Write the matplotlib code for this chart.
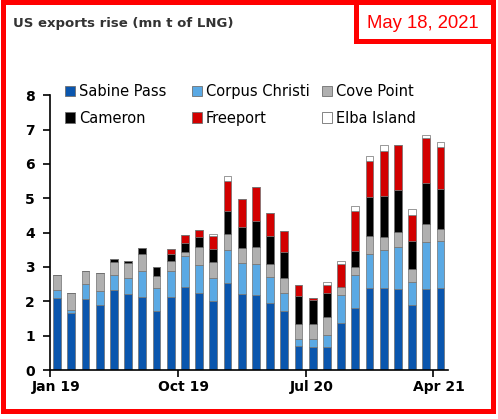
import matplotlib.pyplot as plt
import numpy as np
from matplotlib.patches import Patch, Rectangle


MONTHS = [
    "Jan 19", "Feb 19", "Mar 19", "Apr 19", "May 19", "Jun 19", "Jul 19",
    "Aug 19", "Sep 19", "Oct 19", "Nov 19", "Dec 19", "Jan 20", "Feb 20",
    "Mar 20", "Apr 20", "May 20", "Jun 20", "Jul 20", "Aug 20", "Sep 20",
    "Oct 20", "Nov 20", "Dec 20", "Jan 21", "Feb 21", "Mar 21", "Apr 21",
]

# mn t of LNG
SABINE_PASS = [2.11, 1.67, 2.06, 1.88, 2.34, 2.20, 2.14, 1.73, 2.14, 2.42, 2.24, 2.00, 2.54, 2.22,
               2.18, 1.96, 1.73, 0.70, 0.67, 0.67, 1.37, 1.82, 2.39, 2.39, 2.35, 1.90, 2.35, 2.38]
CORPUS_CHRISTI = [0.21, 0.07, 0.44, 0.42, 0.43, 0.49, 0.73, 0.66, 0.73, 0.89, 0.81, 0.68, 0.96, 0.89,
                  0.90, 0.75, 0.52, 0.20, 0.24, 0.36, 0.81, 0.95, 0.98, 1.11, 1.23, 0.67, 1.37, 1.39]
COVE_POINT = [0.46, 0.50, 0.37, 0.52, 0.38, 0.42, 0.52, 0.36, 0.29, 0.14, 0.52, 0.46, 0.46, 0.44,
              0.50, 0.37, 0.44, 0.43, 0.44, 0.51, 0.23, 0.23, 0.52, 0.37, 0.43, 0.36, 0.52, 0.35]
CAMERON = [0.00, 0.00, 0.00, 0.00, 0.09, 0.07, 0.15, 0.25, 0.23, 0.25, 0.31, 0.38, 0.68, 0.62,
           0.76, 0.82, 0.76, 0.83, 0.69, 0.70, 0.00, 0.47, 1.16, 1.20, 1.24, 0.84, 1.20, 1.15]
FREEPORT = [0.00, 0.00, 0.00, 0.00, 0.00, 0.00, 0.00, 0.00, 0.14, 0.23, 0.20, 0.39, 0.87, 0.82,
            1.00, 0.67, 0.61, 0.31, 0.07, 0.23, 0.68, 1.15, 1.05, 1.30, 1.31, 0.75, 1.32, 1.22]
ELBA_ISLAND = [0.00, 0.00, 0.00, 0.00, 0.00, 0.00, 0.00, 0.00, 0.00, 0.00, 0.00, 0.06, 0.14, 0.00,
               0.00, 0.00, 0.00, 0.00, 0.00, 0.08, 0.09, 0.16, 0.14, 0.19, 0.00, 0.16, 0.08, 0.16]

TERMINALS = ["Sabine Pass", "Corpus Christi", "Cove Point", "Cameron", "Freeport", "Elba Island"]
COLORS = ["#0A56AE", "#5AA9E4", "#B0B0B0", "#000000", "#D20000", "#FFFFFF"]

TICK_LABELS = ["Jan 19", "Oct 19", "Jul 20", "Apr 21"]

W, H = 498, 419
RED = "#FF0000"


def fx(px):
    return px / W


def fy(py):
    return 1 - py / H


def main():
    fig = plt.figure(figsize=(W / 100, H / 100), dpi=100)
    ax = fig.add_axes([fx(50), fy(370), fx(447.6) - fx(50), fy(95.3) - fy(370)])

    series = [SABINE_PASS, CORPUS_CHRISTI, COVE_POINT, CAMERON, FREEPORT, ELBA_ISLAND]
    x = np.arange(len(MONTHS))
    bottom = np.zeros(len(MONTHS))
    for name, values, color in zip(TERMINALS, series, COLORS):
        values = np.array(values)
        ax.bar(x, values, bottom=bottom, width=0.55, color=color,
               edgecolor="#707070", linewidth=0.5, label=name)
        bottom += values

    ax.set_xlim(-0.5, len(MONTHS) - 0.5)
    ax.set_ylim(0, 8)
    ax.set_yticks(range(0, 9))
    ax.set_yticklabels([str(v) for v in range(0, 9)], fontsize=10, fontweight="bold")

    # ticks sit on the month boundaries, labels a bit to the right
    tick_idx = [MONTHS.index(m) for m in TICK_LABELS]
    ax.set_xticks([i - 0.5 for i in tick_idx])
    ax.set_xticklabels([])
    ax.set_xticks([i - 0.08 for i in tick_idx], minor=True)
    ax.set_xticklabels(TICK_LABELS, minor=True, fontsize=10, fontweight="bold")
    ax.tick_params(axis="x", which="major", length=5, width=1.2, direction="out")
    ax.tick_params(axis="x", which="minor", length=0, pad=7)
    ax.tick_params(axis="y", length=5, width=1.2, direction="out", pad=6)

    for side in ["top", "right"]:
        ax.spines[side].set_visible(False)
    for side in ["left", "bottom"]:
        ax.spines[side].set_linewidth(1.2)

    # one small legend per column so the columns sit where the original has them
    column_x = [65, 192, 322]
    for col, left in enumerate(column_x):
        idx = [col, col + 3]
        handles = [Patch(facecolor=COLORS[i], edgecolor="#707070", linewidth=0.6) for i in idx]
        labels = [TERMINALS[i] for i in idx]
        fig.legend(handles, labels, loc="upper left",
                   bbox_to_anchor=(fx(left), fy(84)), frameon=False, fontsize=10.5,
                   borderpad=0, borderaxespad=0,
                   handlelength=0.7, handleheight=0.7, handletextpad=0.25,
                   labelspacing=0.8)

    fig.text(fx(13), fy(24), "US exports rise (mn t of LNG)", fontsize=9.5,
             fontweight="bold", color="#333333", va="center", ha="left")

    fig.patches.append(Rectangle((fx(2.5), fy(410.5)), fx(490), fy(2.5) - fy(410.5),
                                 transform=fig.transFigure, fill=False,
                                 edgecolor=RED, linewidth=3.6))
    fig.patches.append(Rectangle((fx(355.5), fy(41.5)), fx(492.5) - fx(355.5), fy(2.5) - fy(41.5),
                                 transform=fig.transFigure, fill=False,
                                 edgecolor=RED, linewidth=3.6))
    fig.text(fx(423), fy(23), "May 18, 2021", fontsize=13.3, color=RED,
             family="Liberation Sans", ha="center", va="center")

    fig.savefig("out.png", dpi=100)
    plt.close(fig)


if __name__ == "__main__":
    main()
